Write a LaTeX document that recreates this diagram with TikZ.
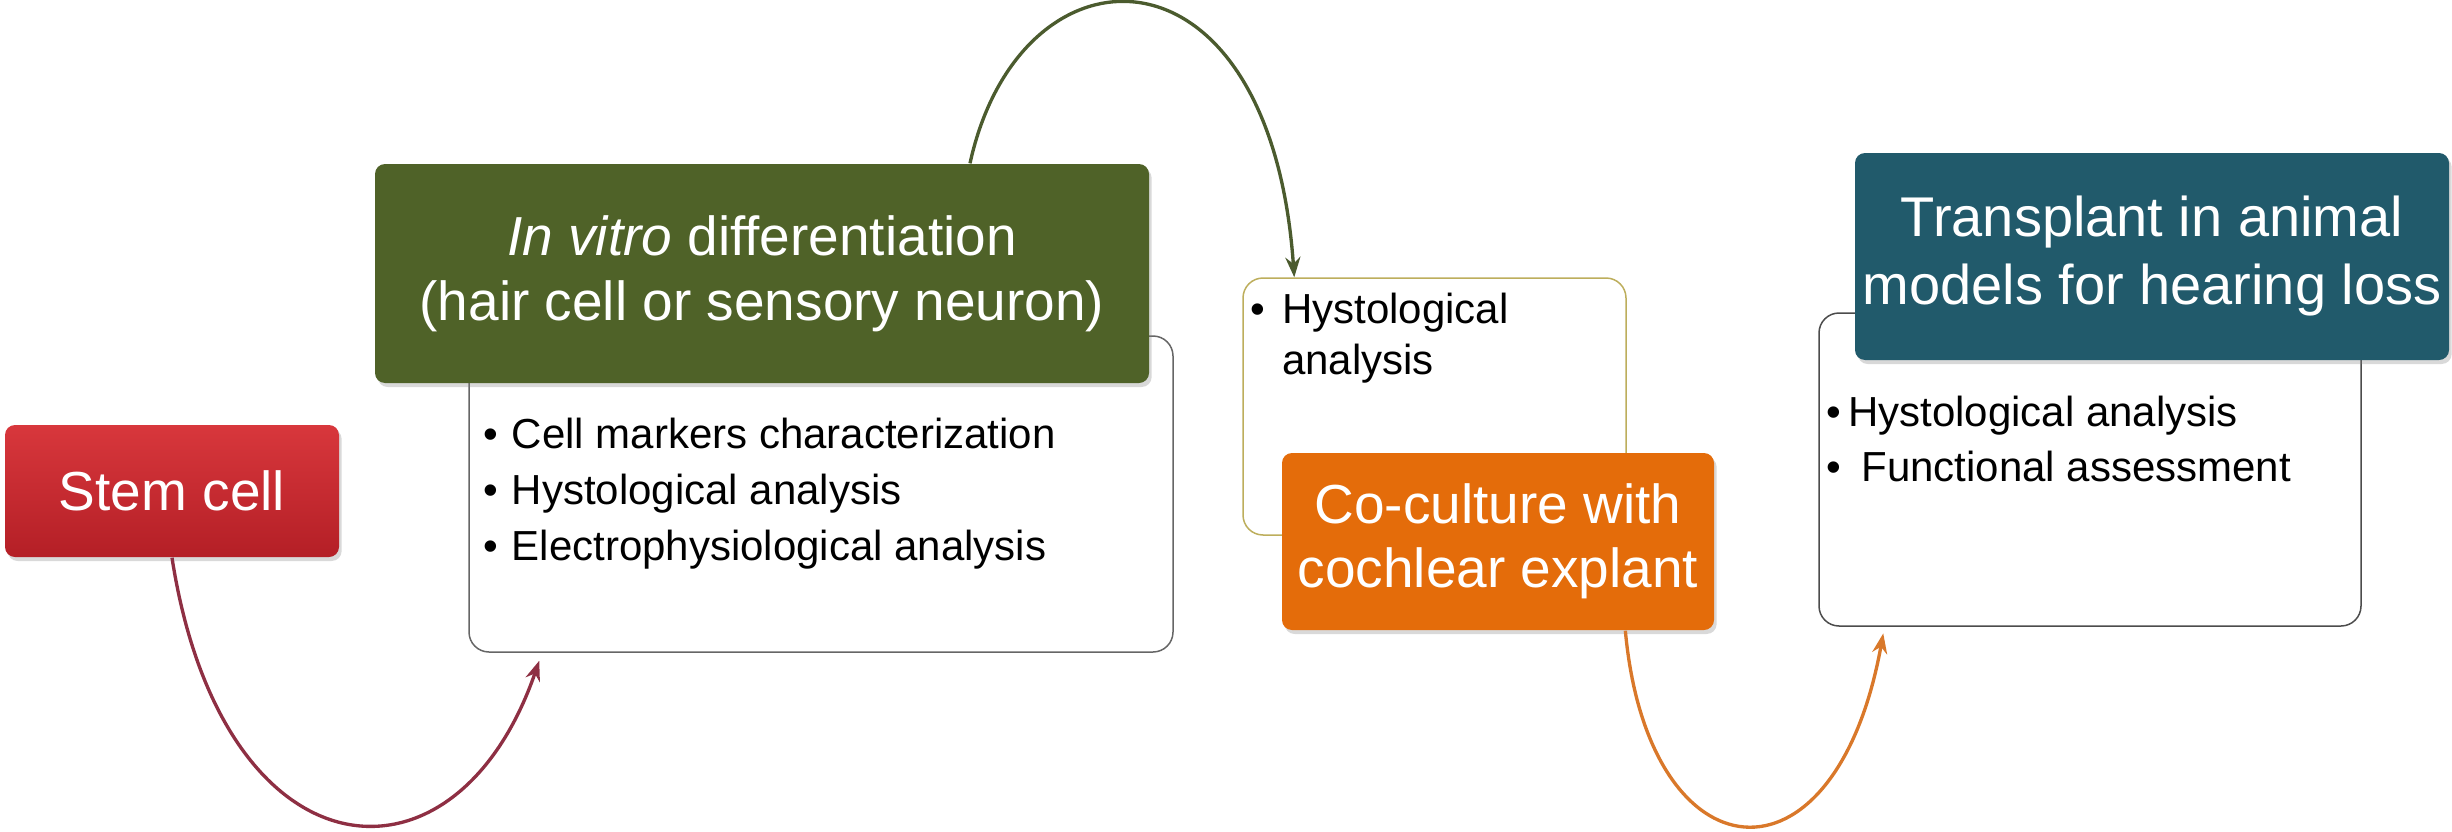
\documentclass[tikz,border=0pt]{standalone}
\usepackage{fontspec}
\setmainfont{Liberation Sans}
\usetikzlibrary{arrows.meta,shadows}
\definecolor{stemtop}{HTML}{D8373C}
\definecolor{stembot}{HTML}{B41F26}
\definecolor{olivebox}{HTML}{4F6228}
\definecolor{orangebox}{HTML}{E46C0A}
\definecolor{tealbox}{HTML}{215A6B}
\definecolor{redline}{HTML}{8E2F43}
\definecolor{greenline}{HTML}{4B5B2E}
\definecolor{orangeline}{HTML}{D9782A}
\definecolor{khaki}{HTML}{BDAE5C}
\begin{document}
\begin{tikzpicture}[x=0.3pt,y=-0.3pt,
  head/.style={rounded corners=3pt, inner sep=0pt, text=white, align=center,
    font=\fontsize{16.5}{19.5}\selectfont,
    drop shadow={opacity=0.3,shadow xshift=0.8pt,shadow yshift=-1.2pt}},
  panel/.style={line width=0.45pt, rounded corners=6pt, fill=white, inner sep=0pt},
  bul/.style={font=\fontsize{12.6}{16.8}\selectfont, align=left, inner sep=0pt},
  link/.style={line width=1pt, -{Stealth[length=6pt,width=4.5pt]}}
]
\useasboundingbox (0,0) rectangle (2452,832);

% white panels
\node[panel, draw=gray!80!black, minimum width=211.2pt, minimum height=94.8pt] (list1) at (821,494) {};
\node[panel, draw=khaki, minimum width=114.9pt, minimum height=77.1pt] (list2) at (1434.5,406.5) {};
\node[panel, draw=gray!60!black, minimum width=162.6pt, minimum height=93.9pt] (list3) at (2090,469.5) {};

% coloured heads
\node[head, top color=stemtop, bottom color=stembot, minimum width=100.2pt, minimum height=39.6pt] (stem) at (172,491) {Stem cell};
\node[head, fill=olivebox, minimum width=232.2pt, minimum height=65.7pt] (vitro) at (762,273.5) {\textit{In vitro} differentiation\\(hair cell or sensory neuron)};
\node[head, fill=orangebox, minimum width=129.6pt, minimum height=53.1pt, font=\fontsize{16.5}{19.2}\selectfont] (cocult) at (1498,541.5) {Co-culture with\\cochlear explant};
\node[head, fill=tealbox, minimum width=178.2pt, minimum height=62.1pt, font=\fontsize{16.8}{20.4}\selectfont] (trans) at (2152,256.5) {Transplant in animal\\models for hearing loss};

% bullet texts
\node[bul, anchor=west] (b1) at (483,494) {\textbullet\hspace{4pt}Cell markers characterization\\\textbullet\hspace{4pt}Hystological analysis\\\textbullet\hspace{4pt}Electrophysiological analysis};
\node[bul, anchor=west, font=\fontsize{12.6}{15.3}\selectfont] (b2) at (1250,338.5) {\textbullet\hspace{5pt}Hystological\\\hphantom{\textbullet\hspace{5pt}}analysis};
\node[bul, anchor=west, font=\fontsize{12.6}{16.5}\selectfont] (b3) at (1826,438.5) {\textbullet\hspace{2pt}Hystological analysis\\\textbullet\hspace{6pt}Functional assessment};

% connectors
\draw[link, redline] (stem.south) .. controls (222,880) and (455,905) .. ([xshift=21.3pt,yshift=-2.4pt]list1.south west);
\draw[link, greenline] ([xshift=62.4pt]vitro.north) .. controls (1020,-65) and (1270,-70) .. ([xshift=15.6pt]list2.north west);
\draw[link, orangeline] ([xshift=103.2pt]cocult.south west) .. controls (1648,880) and (1835,900) .. ([xshift=19.5pt,yshift=-2pt]list3.south west);
\end{tikzpicture}
\end{document}
